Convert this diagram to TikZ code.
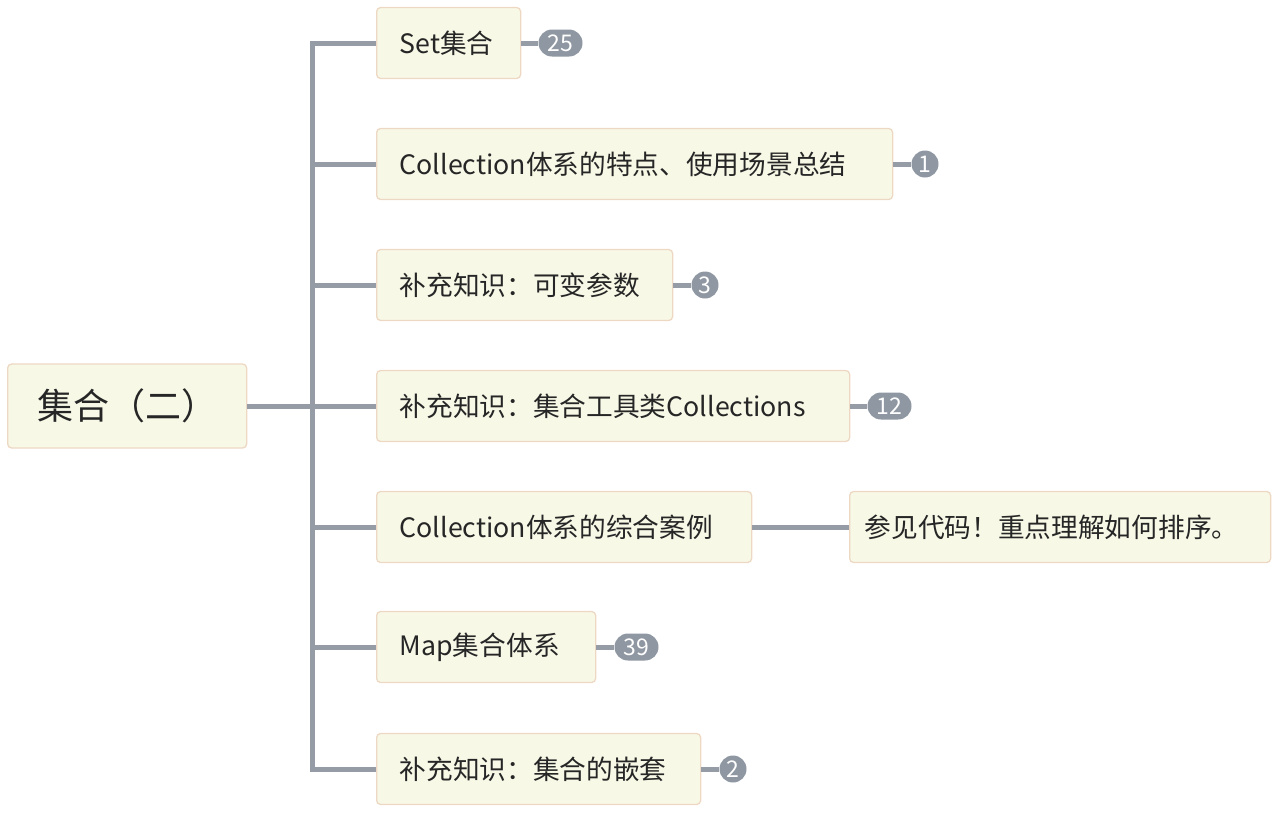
\documentclass[tikz,border=0pt]{standalone}
\usepackage{fontspec}
\setmainfont{Noto Sans CJK SC}
\usetikzlibrary{positioning}

\definecolor{topicfill}{HTML}{F8F8E7}
\definecolor{topicline}{HTML}{EDD8C3}
\definecolor{branchgray}{HTML}{959CA6}
\definecolor{badgegray}{HTML}{8F97A2}
\definecolor{ink}{HTML}{262626}

\tikzstyle{topic} = [rectangle,draw=topicline,fill=topicfill,rounded corners=4,line width=1.3,anchor=west,minimum height=71,inner xsep=23,align=left,text=ink,font=\fontsize{26.7}{32}\selectfont]
\tikzstyle{central} = [topic,minimum height=84,inner xsep=0,align=center,font=\fontsize{36}{42}\selectfont]
\tikzstyle{badge} = [rectangle,fill=badgegray,rounded corners=13.5,minimum height=27,minimum width=27,inner sep=0,text=white,font=\fontsize{23}{24}\selectfont]
\tikzstyle{branch} = [draw=branchgray,line width=5]

\begin{document}
\begin{tikzpicture}[x=1pt,y=-1pt]
	\useasboundingbox (0,0) rectangle (1278,812);
	% root
	\node[central,minimum width=239] (root) at (7,406) {集合（二）};
	\coordinate (hub) at (312,406);
	% main topics
	\node[topic,text width=98] (t1) at (376,43) {Set集合};
	\node[topic,text width=470] (t2) at (376,164) {Collection体系的特点、使用场景总结};
	\node[topic,text width=250] (t3) at (376,285) {补充知识：可变参数};
	\node[topic,text width=427] (t4) at (376,406) {补充知识：集合工具类Collections};
	\node[topic,text width=329] (t5) at (376,527) {Collection体系的综合案例};
	\node[topic,text width=173] (t6) at (376,647) {Map集合体系};
	\node[topic,text width=278] (t7) at (376,769) {补充知识：集合的嵌套};
	\node[topic,text width=391,inner xsep=15] (g5) at (849,527) {参见代码！重点理解如何排序。};
	% counters
	\node[badge,minimum width=44,right=17 of t1] (b1) {25};
	\node[badge,right=18 of t2] (b2) {1};
	\node[badge,right=18 of t3] (b3) {3};
	\node[badge,minimum width=44,right=17 of t4] (b4) {12};
	\node[badge,minimum width=44,right=18 of t6] (b6) {39};
	\node[badge,right=18 of t7] (b7) {2};
	% connectors
	\draw[branch] (root.east) -- (hub);
	\foreach \k in {1,...,7}
	{\draw[branch] (hub) |- (t\k.west);}
	\draw[branch] (t5.east) -- (g5.west);
	\foreach \k in {1,2,3,4,6,7}
	{\draw[branch] (t\k.east) -- (b\k.west);}
\end{tikzpicture}
\end{document}
